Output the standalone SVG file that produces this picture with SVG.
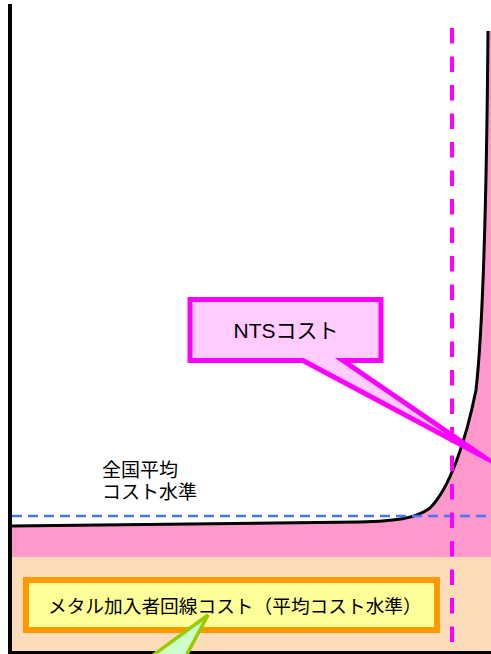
<svg xmlns="http://www.w3.org/2000/svg" width="491" height="654" viewBox="0 0 491 654">
<style>
  .jp { font-family: "Liberation Sans", "Noto Sans CJK JP", sans-serif; fill: #000; }
  .axis { stroke: #000; stroke-width: 4; fill: none; }
  .curve { stroke: #000; stroke-width: 3; fill: none; }
</style>
<rect width="491" height="654" fill="#fff"/>
<g id="regions">
  <rect x="12" y="557" width="479" height="95" fill="#FDDCB9"/>
  <path d="M488,31 C487,150 484,320 476,390 C466,440 450,488 430,508 C415,519 395,521 360,522 L12,526 L12,557 L491,557 L491,31 Z" fill="#FF99CC"/>
</g>
<g id="cost-curve">
  <path class="curve" d="M488,31 C487,150 484,320 476,390 C466,440 450,488 430,508 C415,519 395,521 360,522 L12,526"/>
</g>
<g id="axes">
  <line class="axis" x1="10" y1="4" x2="10" y2="654"/>
  <line x1="8" y1="652.5" x2="491" y2="652.5" stroke="#000" stroke-width="3"/>
</g>
<g id="connectors">
  <line x1="12" y1="516" x2="491" y2="516" stroke="#4477FF" stroke-width="2.5" stroke-dasharray="10,6"/>
  <line x1="452" y1="28" x2="452" y2="654" stroke="#FF00FF" stroke-width="4" stroke-dasharray="15.5,13"/>
</g>
<g id="label-average">
  <text class="jp" x="102" y="477" font-size="19">全国平均</text>
  <text class="jp" x="102" y="499" font-size="19">コスト水準</text>
</g>
<g id="nts-callout">
  <path d="M190,299.5 L381,299.5 L381,360.5 L343,360.5 L484,457 L303,360.5 L190,360.5 Z" fill="#FFCCFF" stroke="#FF00FF" stroke-width="5" stroke-linejoin="miter" stroke-miterlimit="20"/>
  <text class="jp" x="286" y="338" font-size="21" text-anchor="middle">NTSコスト</text>
</g>
<g id="metal-box">
  <rect x="26" y="580" width="411" height="50" fill="#FFFF99" stroke="#FF9900" stroke-width="6"/>
  <text class="jp" x="48" y="613" font-size="18.7">メタル加入者回線コスト（平均コスト水準）</text>
</g>
<g id="green-callout">
  <path d="M152,656 L208,615 L186,656 Z" fill="#CCFFCC" stroke="#99CC00" stroke-width="3.5" stroke-linejoin="miter"/>
</g>
</svg>
